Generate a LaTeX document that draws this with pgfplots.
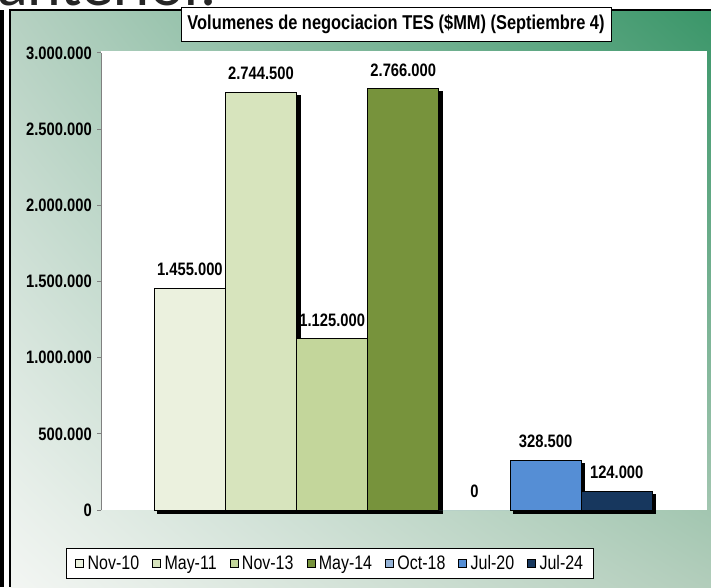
\documentclass[border=0pt]{standalone}
\usepackage{pgfplots}
\pgfplotsset{compat=1.18}
\usepackage{fontspec}
\setmainfont{Liberation Sans}
\newfontfamily\narrowfont{Liberation Sans}[FakeStretch=0.82]
\newfontfamily\topfont{Carlito}
\usetikzlibrary{shadows,shadings}
\definecolor{c1}{HTML}{EBF1DE}
\definecolor{c2}{HTML}{D7E4BD}
\definecolor{c3}{HTML}{C3D69B}
\definecolor{c4}{HTML}{77933C}
\definecolor{c5}{HTML}{95B3D7}
\definecolor{c6}{HTML}{558ED5}
\definecolor{c7}{HTML}{17375E}
\definecolor{bgUL}{HTML}{B6D1C2}
\definecolor{bgUR}{HTML}{3A9669}
\definecolor{bgLL}{HTML}{F3F6F3}
\definecolor{bgLR}{HTML}{B2CDBB}
\begin{document}
\begin{tikzpicture}[x=1pt,y=1pt]
\useasboundingbox (0,0) rectangle (711,587);
\fill[white] (0,0) rectangle (711,587);
\node[anchor=base west, inner sep=0pt, text=black!85, font=\topfont\fontsize{64}{64}\selectfont] at (-3,581) {anterior.};
\fill[white] (0,0) rectangle (711,577);
\fill[black] (0,0) rectangle (4,577);
\shade[upper left=bgUL, upper right=bgUR, lower left=bgLL, lower right=bgLR] (10,0) rectangle (711,577);
\draw[black, line width=1.2pt] (10,0) -- (10,577) -- (711,577);
\fill[white] (101,77) rectangle (707,535.5);
\begin{axis}[
  at={(101pt,77pt)}, anchor=south west,
  scale only axis, width=606pt, height=457pt,
  xmin=-1.249, xmax=7.269, ymin=0, ymax=3000000,
  scaled y ticks=false,
  axis x line=none, axis y line*=left,
  ytick={0,500000,1000000,1500000,2000000,2500000,3000000},
  yticklabels={0,500.000,1.000.000,1.500.000,2.000.000,2.500.000,3.000.000},
  xtick=\empty,
  tick align=outside, major tick length=4pt,
  y axis line style={draw=gray, line width=1pt, -},
  ytick style={draw=gray, line width=1pt},
  yticklabel style={font=\narrowfont\bfseries\fontsize{18}{18}\selectfont, inner sep=0pt, xshift=-5pt},
  clip=false,
  point meta=explicit symbolic,
  nodes near coords,
  every node near coord/.append style={font=\narrowfont\bfseries\fontsize{18}{18}\selectfont, inner sep=0pt, anchor=south, yshift=12pt, text=black},
  mybar/.style={ybar, bar width=1, bar shift=0pt, draw=black, line width=0.8pt, fill=#1, forget plot,
     drop shadow={shadow xshift=3.5pt, shadow yshift=-3pt, fill=black, opacity=1}},
  legend columns=7,
  legend image code/.code={\draw[#1] (0pt,-4pt) rectangle (8pt,4pt);},
  legend style={at={(0.3779,-0.1171)}, anchor=center, draw=black, line width=0.8pt, fill=white,
     font=\narrowfont\fontsize{19.5}{20}\selectfont, inner xsep=9pt, inner ysep=5pt,
     nodes={inner xsep=1.5pt, inner ysep=2pt},
     /tikz/every odd column/.append style={column sep=2pt},
     /tikz/every even column/.append style={column sep=11.5pt}},
]
\addplot[mybar=c1] coordinates {(0,1455000) [1.455.000]};
\addplot[mybar=c2] coordinates {(1,2744500) [2.744.500]};
\addplot[mybar=c3] coordinates {(2,1125000) [1.125.000]};
\addplot[mybar=c4] coordinates {(3,2766000) [2.766.000]};
\addplot[ybar, bar width=1, bar shift=0pt, draw=none, fill=c5, forget plot] coordinates {(4,0) [0]};
\addplot[mybar=c6] coordinates {(5,328500) [328.500]};
\addplot[mybar=c7] coordinates {(6,124000) [124.000]};
\addlegendimage{fill=c1, draw=black, line width=0.8pt}
\addlegendentry{Nov-10}
\addlegendimage{fill=c2, draw=black, line width=0.8pt}
\addlegendentry{May-11}
\addlegendimage{fill=c3, draw=black, line width=0.8pt}
\addlegendentry{Nov-13}
\addlegendimage{fill=c4, draw=black, line width=0.8pt}
\addlegendentry{May-14}
\addlegendimage{fill=c5, draw=black, line width=0.8pt}
\addlegendentry{Oct-18}
\addlegendimage{fill=c6, draw=black, line width=0.8pt}
\addlegendentry{Jul-20}
\addlegendimage{fill=c7, draw=black, line width=0.8pt}
\addlegendentry{Jul-24}
\end{axis}
\node[draw=black, fill=white, line width=0.8pt, minimum width=430pt, minimum height=34pt, inner sep=0pt,
  font=\narrowfont\bfseries\fontsize{20}{24}\selectfont] at (396,563) {Volumenes de negociacion TES (\$MM) (Septiembre 4)};
\end{tikzpicture}
\end{document}
